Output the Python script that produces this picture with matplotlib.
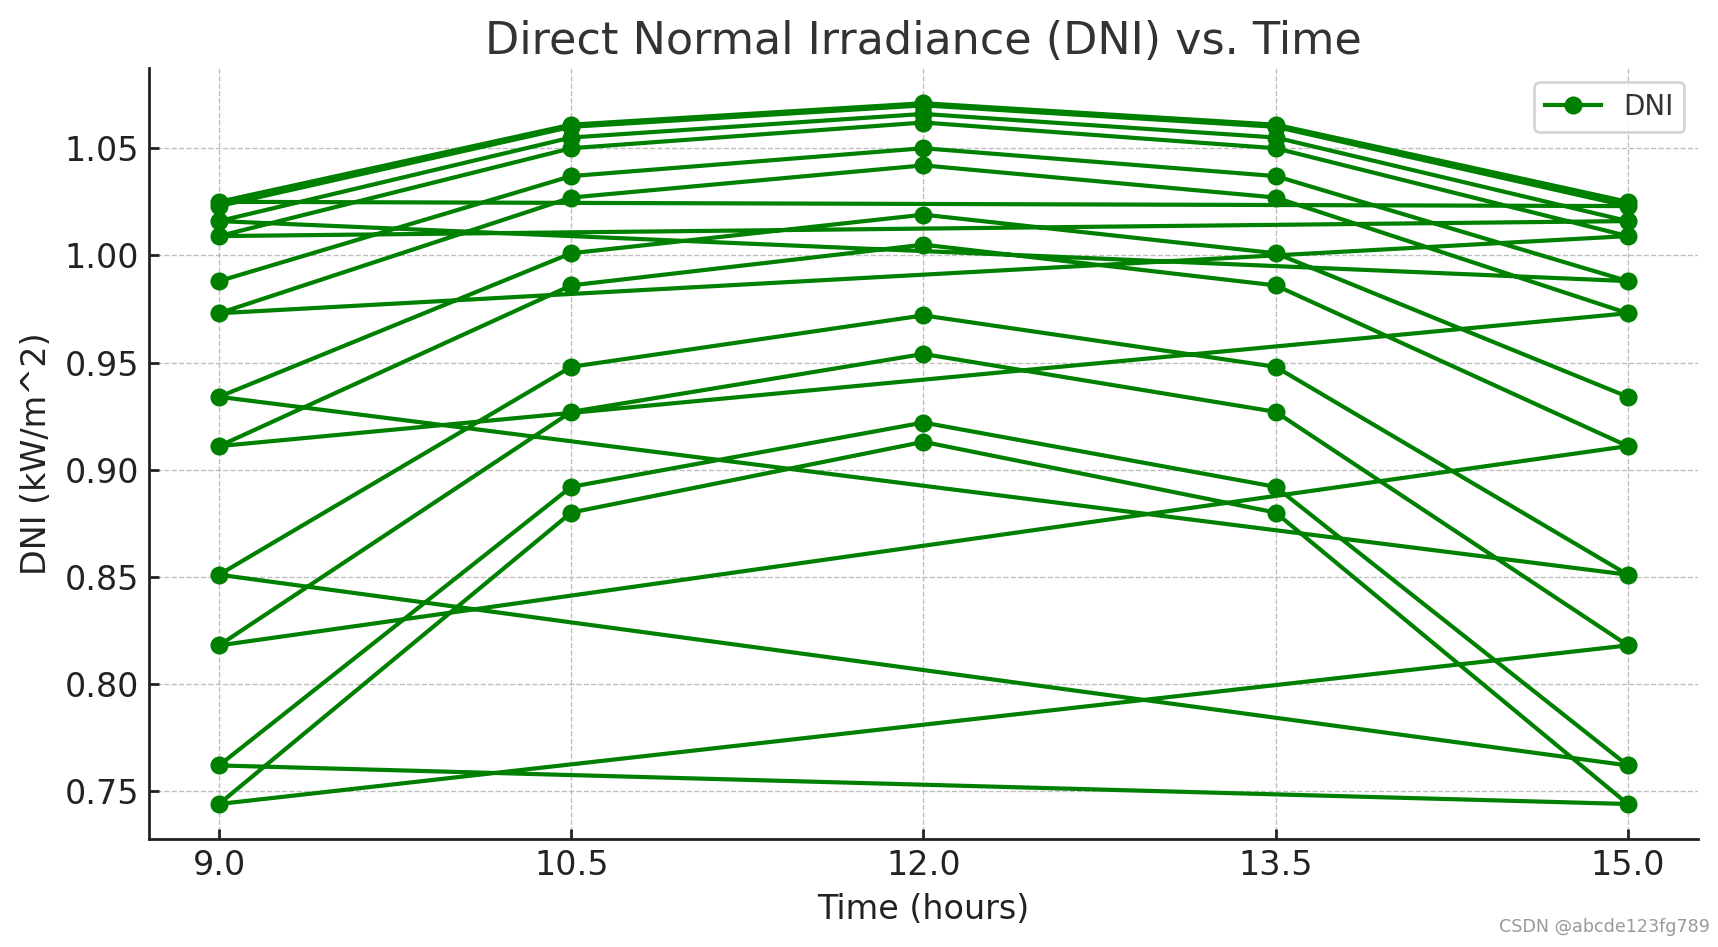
import matplotlib
matplotlib.use('Agg')
import matplotlib.pyplot as plt
import numpy as np

# hours of the day sampled each day
times = [9.0, 10.5, 12.0, 13.5, 15.0]

# DNI (kW/m^2) per day, in plotted order
dni_days = [
    [0.988, 1.037, 1.050, 1.037, 0.988],
    [1.016, 1.055, 1.066, 1.055, 1.016],
    [1.009, 1.050, 1.062, 1.050, 1.009],
    [0.973, 1.027, 1.042, 1.027, 0.973],
    [0.911, 0.986, 1.005, 0.986, 0.911],
    [0.818, 0.927, 0.954, 0.927, 0.818],
    [0.744, 0.880, 0.913, 0.880, 0.744],
    [0.762, 0.892, 0.922, 0.892, 0.762],
    [0.851, 0.948, 0.972, 0.948, 0.851],
    [0.934, 1.001, 1.019, 1.001, 0.934],
]
# second run of days (drawn as its own line)
dni_days_2 = [
    [1.023, 1.060, 1.070, 1.060, 1.023],
    [1.025, 1.061, 1.071, 1.061, 1.025],
]

x1 = np.tile(times, len(dni_days))
y1 = np.concatenate(dni_days)
x2 = np.tile(times, len(dni_days_2))
y2 = np.concatenate(dni_days_2)

fig = plt.figure(figsize=(8.59, 4.735), dpi=200)
ax = fig.add_axes([0.0865, 0.114, 0.902, 0.814])

ax.plot(x1, y1, marker='o', color='green', markersize=5.5, label='DNI')
ax.plot(x2, y2, marker='o', color='green', markersize=5.5)

ax.set_xticks(times)
ax.set_title('Direct Normal Irradiance (DNI) vs. Time', fontsize=16, color='#333333', pad=5)
ax.set_xlabel('Time (hours)', fontsize=12, color='#222222')
ax.set_ylabel('DNI (kW/m^2)', fontsize=12, color='#222222')
ax.tick_params(direction='in', labelsize=12, length=3.5, width=1, colors='#222222')
ax.grid(True, linestyle='--', color='#b0b0b0', linewidth=0.5, alpha=0.8)
ax.set_axisbelow(True)
for s in ['top', 'right']:
    ax.spines[s].set_visible(False)
for s in ['left', 'bottom']:
    ax.spines[s].set_color('#222222')
    ax.spines[s].set_linewidth(1.0)

leg = ax.legend(loc='upper right', fontsize=10, frameon=True)
leg.get_frame().set_edgecolor('#cccccc')
for t in leg.get_texts():
    t.set_color('#333333')

fig.text(0.995, 0.012, 'CSDN @abcde123fg789', ha='right', va='bottom',
         fontsize=6.3, color='#999999')

fig.savefig('out.png', dpi=200)
